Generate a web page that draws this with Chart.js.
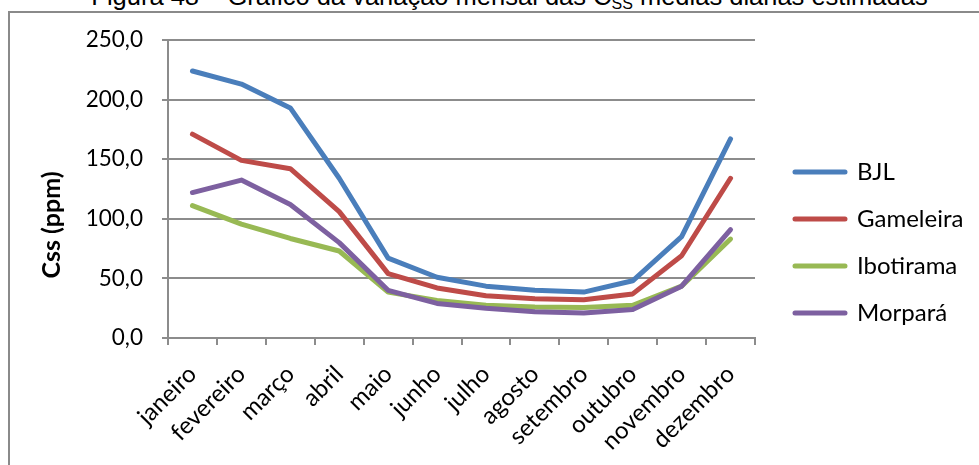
<!DOCTYPE html>
<html>
<head>
<meta charset="utf-8">
<script src="https://cdn.jsdelivr.net/npm/chart.js@4.4.0/dist/chart.umd.min.js"></script>
<style>
  html, body { margin: 0; padding: 0; background: #fff; overflow: hidden; }
  #wrap { position: relative; width: 979px; height: 465px; overflow: hidden; }
  #frame { position: absolute; left: 8px; top: 11px; width: 990px; height: 470px;
           border-left: 2px solid #8a8a8a; border-top: 2px solid #8a8a8a; }
  #caption { position: absolute; top: -16px; left: 0; width: 1019px; text-align: center;
             font: 25.5px/25.5px "Liberation Sans", Arial, sans-serif; white-space: nowrap; color: #000; }
  #caption sub { font-size: 16px; vertical-align: -4px; line-height: 0; }
  #box { position: absolute; left: 0; top: 0; width: 979px; height: 465px; }
</style>
</head>
<body>
<div id="wrap">
  <div id="frame"></div>
  <div id="caption">Figura 48 – Gráfico da variação mensal das C<sub>SS</sub> médias diárias estimadas</div>
  <div id="box"><canvas id="myChart"></canvas></div>
</div>
<script>
const months = ['janeiro', 'fevereiro', 'março', 'abril', 'maio', 'junho',
    'julho', 'agosto', 'setembro', 'outubro', 'novembro', 'dezembro'];

const bjl = [224, 213, 193, 134, 67, 51, 43.5, 40, 38.5, 48, 85, 167];
const gameleira = [171, 149, 142, 106, 54, 42, 35.5, 33, 32, 37, 69, 134];
const ibotirama = [111, 95.5, 83.5, 73, 38.5, 31.5, 27.5, 26, 25.5, 27.5, 43.5, 83];
const morpara = [122, 132.5, 112, 80, 40, 29, 25, 22, 21, 24, 43.5, 91];

const yTickLabels = ['0,0', '50,0', '100,0', '150,0', '200,0', '250,0'];
const yAxisTitle = 'Css (ppm)';

const gridColor = '#8c8c8c';
Chart.defaults.font.family = 'Lato';
Chart.defaults.color = '#000';

// y title sits a bit lower than chartArea center, like the excel original
const yTitle = {
    id: 'yTitle',
    afterDraw(chart) {
        const { ctx, chartArea } = chart;
        ctx.save();
        ctx.translate(52, (chartArea.top + chartArea.bottom) / 2 + 36);
        ctx.rotate(-Math.PI / 2);
        ctx.font = 'bold 25px Lato';
        ctx.fillStyle = '#000';
        ctx.textAlign = 'center';
        ctx.textBaseline = 'middle';
        ctx.fillText(yAxisTitle, 0, 0);
        ctx.restore();
    }
};

function line(label, data, color, order) {
    return {
        label,
        data,
        order,
        borderColor: color,
        backgroundColor: color,
        borderWidth: 5,
        borderCapStyle: 'round',
        borderJoinStyle: 'round',
        pointRadius: 0,
        tension: 0
    };
}

const ctx = document.getElementById('myChart');

new Chart(ctx, {
    type: 'line',
    data: {
        labels: months,
        datasets: [
            line('BJL', bjl, '#4a7ebb', 4),
            line('Gameleira', gameleira, '#be4b48', 3),
            line('Ibotirama', ibotirama, '#98b954', 2),
            line('Morpará', morpara, '#7d60a0', 1)
        ]
    },
    options: {
        responsive: true,
        maintainAspectRatio: false,
        animation: false,
        layout: { padding: { top: 20, right: 12, bottom: 0, left: 0 } },
        plugins: {
            tooltip: { enabled: false },
            // empty title, only used as a 20px spacer above the plot
            title: { display: true, text: '', padding: 0, font: { size: 10, lineHeight: 2 } },
            legend: {
                position: 'right',
                maxWidth: 195,
                labels: {
                    boxWidth: 50,
                    boxHeight: 0,
                    padding: 23,
                    color: '#000',
                    font: { size: 24 },
                    sort: (a, b) => a.datasetIndex - b.datasetIndex
                }
            }
        },
        scales: {
            x: {
                offset: true,
                grid: { offset: true, drawOnChartArea: false, tickLength: 7, color: gridColor, lineWidth: 2 },
                border: { color: gridColor, width: 2 },
                ticks: { autoSkip: false, minRotation: 45, maxRotation: 45, padding: 15, font: { size: 24 } },
                afterFit(scale) { scale.height = 127; }
            },
            y: {
                min: 0,
                max: 250,
                grid: { color: gridColor, lineWidth: 2, tickLength: 6 },
                border: { color: gridColor, width: 2 },
                ticks: {
                    stepSize: 50,
                    padding: 19,
                    font: { size: 22.5 },
                    callback: (v, i) => yTickLabels[i]
                },
                afterFit(scale) { scale.width = 168; }
            },
            pad: {
                type: 'linear',
                position: 'right',
                grid: { display: false },
                border: { display: false },
                ticks: { display: false },
                afterFit(scale) { scale.width = 17; }
            }
        }
    },
    plugins: [yTitle]
});
</script>
</body>
</html>
